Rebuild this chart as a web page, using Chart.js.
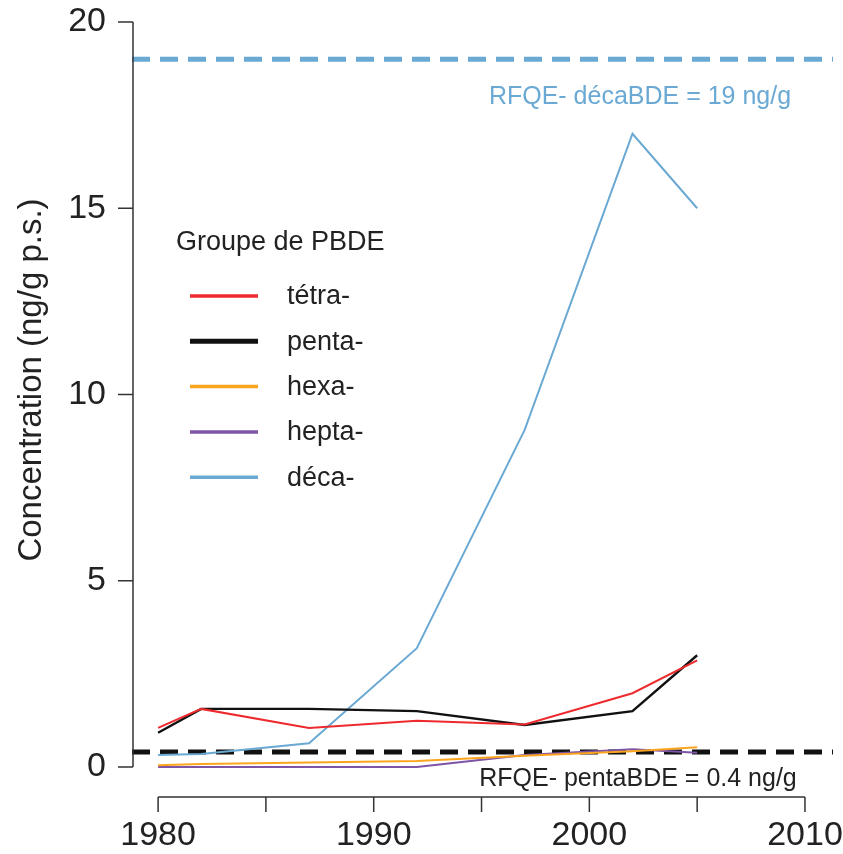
<!DOCTYPE html>
<html>
<head>
<meta charset="utf-8">
<script src="https://cdn.jsdelivr.net/npm/chart.js@4"></script>
<style>
  body { margin: 0; background: #fff; }
</style>
</head>
<body>
<canvas id="graph" width="843" height="854"></canvas>
<script>
var annees = [1980, 1982, 1987, 1992, 1997, 2002, 2005];
var tetra = [1.05, 1.56, 1.05, 1.24, 1.14, 1.98, 2.86];
var penta = [0.92, 1.56, 1.56, 1.50, 1.13, 1.50, 3.00];
var hexa = [0.05, 0.08, 0.12, 0.16, 0.30, 0.42, 0.53];
var hepta = [0.00, 0.00, 0.00, 0.00, 0.32, 0.48, 0.38];
var deca = [0.32, 0.35, 0.64, 3.19, 9.05, 17.0, 15.0];

var groupes = ["tétra-", "penta-", "hexa-", "hepta-", "déca-"];
var couleurs = ["#ee2a2e", "#111111", "#fba51f", "#7d54a6", "#6aa9d3"];
var seuilDeca = 19;
var seuilPenta = 0.4;
var xTicks = [1980, 1985, 1990, 1995, 2000, 2005, 2010];
var xLabels = [1980, 1990, 2000, 2010];
var yTicks = [0, 5, 10, 15, 20];

var police = "'Liberation Sans', Arial, sans-serif";

function points(vals) {
    return annees.map(function (a, i) { return { x: a, y: vals[i] }; });
}

var xMin = 1978.79, xMax = 2011.3;

var datasets = [{
    label: "seuil deca",
    data: [{ x: xMin, y: seuilDeca }, { x: xMax, y: seuilDeca }],
    borderColor: "#6aa9d3",
    borderWidth: 5,
    borderDash: [18, 10],
    pointRadius: 0
}];

var series = [tetra, penta, hexa, hepta, deca];
series.forEach(function (vals, i) {
    datasets.push({
        label: groupes[i],
        data: points(vals),
        borderColor: couleurs[i],
        borderWidth: i == 1 ? 2.4 : 2,
        pointRadius: 0,
        tension: 0
    });
});

datasets.push({
    label: "seuil penta",
    data: [{ x: xMin, y: seuilPenta }, { x: xMax, y: seuilPenta }],
    borderColor: "#111111",
    borderWidth: 5,
    borderDash: [18, 10],
    pointRadius: 0
});

var axesR = {
    id: "axesR",
    afterDraw: function (chart) {
        var c = chart.ctx;
        var sx = chart.scales.x, sy = chart.scales.y;
        var area = chart.chartArea;
        c.save();
        c.strokeStyle = "#333";
        c.lineWidth = 1.5;
        c.fillStyle = "#222";

        // axe y
        var y0 = sy.getPixelForValue(0), y20 = sy.getPixelForValue(20);
        var ax = area.left + 1;
        c.beginPath();
        c.moveTo(ax, y0); c.lineTo(ax, y20);
        yTicks.forEach(function (t) {
            var p = sy.getPixelForValue(t);
            c.moveTo(ax, p); c.lineTo(ax - 15, p);
        });
        c.stroke();
        c.font = "34px " + police;
        c.textAlign = "right";
        c.textBaseline = "middle";
        yTicks.forEach(function (t) {
            c.fillText(String(t), 106, sy.getPixelForValue(t));
        });

        // axe x
        var ay = 797;
        c.beginPath();
        c.moveTo(sx.getPixelForValue(1980), ay);
        c.lineTo(sx.getPixelForValue(2010), ay);
        xTicks.forEach(function (t) {
            var p = sx.getPixelForValue(t);
            c.moveTo(p, ay); c.lineTo(p, ay + 15);
        });
        c.stroke();
        c.textAlign = "center";
        c.textBaseline = "middle";
        xLabels.forEach(function (t) {
            c.fillText(String(t), sx.getPixelForValue(t), 836);
        });

        // titre axe y
        c.save();
        c.translate(32, 380);
        c.rotate(-Math.PI / 2);
        c.font = "33px " + police;
        c.fillText("Concentration (ng/g p.s.)", 0, 0);
        c.restore();

        // annotations
        c.font = "25px " + police;
        c.fillStyle = "#6aa9d3";
        c.fillText("RFQE- décaBDE = 19 ng/g", 640, 97);
        c.fillStyle = "#222";
        c.fillText("RFQE- pentaBDE = 0.4 ng/g", 638, 779);

        // légende
        c.textAlign = "left";
        c.font = "27px " + police;
        c.fillText("Groupe de PBDE", 176, 243);
        groupes.forEach(function (g, i) {
            var yy = 296 + i * 45.3;
            c.strokeStyle = couleurs[i];
            c.lineWidth = i == 1 ? 5 : 3.5;
            c.beginPath();
            c.moveTo(190, yy); c.lineTo(258, yy);
            c.stroke();
            c.fillStyle = "#222";
            c.fillText(g, 287, yy + 1);
        });
        c.restore();
    }
};

new Chart(document.getElementById("graph").getContext("2d"), {
    type: "line",
    data: { datasets: datasets },
    options: {
        responsive: false,
        animation: false,
        layout: { padding: { left: 132, right: 10, top: 0, bottom: 57 } },
        plugins: { legend: { display: false }, tooltip: { enabled: false } },
        scales: {
            x: { type: "linear", min: xMin, max: xMax, display: false },
            y: { min: -0.805, max: 20.59, display: false }
        }
    },
    plugins: [axesR]
});
</script>
</body>
</html>
